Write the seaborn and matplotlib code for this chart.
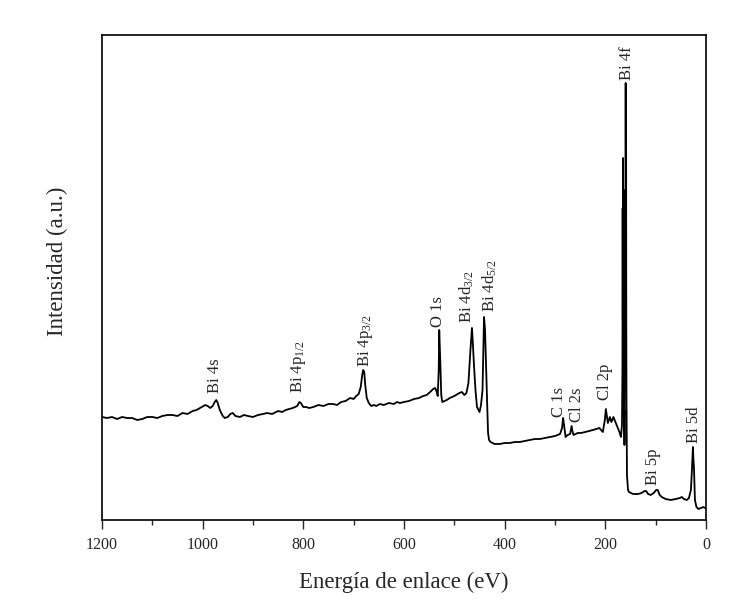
import matplotlib
matplotlib.use("Agg")
import matplotlib.pyplot as plt
import seaborn as sns
import pandas as pd

# Survey XPS spectrum: binding energy (eV) and intensity (a.u.)
energy = [
    1200, 1190, 1180, 1170, 1160, 1150, 1140, 1130, 1120, 1110, 1100, 1090, 1080,
    1070, 1060, 1050, 1040, 1030, 1020, 1012, 1005, 995, 990, 985, 980, 976, 973,
    970, 966, 960, 956, 950, 945, 940, 935, 926, 918, 910, 900, 890, 880, 872, 862,
    850, 842, 835, 828, 821, 812, 808, 805, 800, 795, 788, 780, 770, 760, 750, 741,
    733, 725, 716, 707, 700, 695, 690, 686, 683, 681, 679, 677, 674, 670, 665, 660,
    655, 648, 640, 630, 620, 614, 608, 600, 590, 580, 570, 562, 555, 548, 542, 538,
    535, 533, 531, 530, 528, 526, 524, 515, 509, 500, 490, 485, 480, 476, 472, 468,
    465, 463, 461, 458, 455, 450, 447, 444, 441, 439, 437, 435, 433, 431, 428, 420,
    410, 400, 390, 380, 370, 360, 350, 340, 330, 320, 310, 300, 290, 286, 284, 282,
    279, 275, 270, 267, 265, 263, 255, 248, 240, 232, 225, 218, 212, 205, 201, 199,
    197, 195, 191, 188, 184, 180, 176, 172, 169, 167, 166, 165.6, 165.2, 164.8,
    164.4, 164, 163.5, 163, 162.5, 162, 161.5, 161, 160.5, 160, 159.6, 159.2, 158.8,
    158.4, 158, 157, 155, 153, 145, 135, 128, 122, 119, 115, 110, 104, 99, 96, 92,
    88, 80, 70, 60, 52, 48, 44, 38, 34, 30, 28, 26, 25, 24, 22, 19, 15, 10, 5, 2, 0,
]
intensity = [
    103, 102, 103, 101, 103, 102, 102, 100, 101, 103, 103, 102, 104,
    105, 105, 104, 107, 106, 109, 110, 112, 115, 114, 112, 114, 118, 120,
    117, 110, 104, 102, 103, 106, 107, 104, 103, 105, 104, 103, 105, 106, 107, 106,
    109, 108, 110, 111, 112, 114, 118, 117, 113, 113, 112, 113, 115, 114, 116, 116,
    115, 118, 119, 122, 121, 124, 126, 133, 145, 150, 148, 135, 122, 117, 114, 115,
    114, 116, 115, 117, 116, 118, 117, 118, 119, 121, 122, 124, 125, 128, 131, 132,
    128, 124, 150, 190, 160, 125, 118, 120, 122, 124, 127, 128, 125, 127, 137, 170,
    192, 175, 155, 130, 113, 108, 115, 130, 203, 190, 157, 120, 87, 80, 78, 76,
    76, 77, 77, 78, 78, 79, 80, 81, 81, 82, 83, 84, 86, 92, 102, 95,
    83, 85, 86, 94, 88, 85, 87, 87, 88, 89, 90, 91, 92, 88, 100, 111,
    104, 97, 103, 98, 103, 98, 93, 88, 83, 95, 150, 312, 200, 362,
    280, 320, 150, 90, 110, 75, 200, 150, 330, 250, 437, 300, 400,
    200, 120, 45, 30, 28, 26, 26, 27, 29, 29, 26, 25, 27, 30, 30, 25,
    23, 21, 20, 21, 22, 23, 21, 20, 22, 30, 50, 73, 60, 53, 20, 13, 11, 12, 13, 12, 12,
]

# Peak assignments and where their labels sit (energy, intensity at label base)
peak_labels = [
    "Bi 4s", r"Bi 4p$\mathregular{_{1/2}}$", r"Bi 4p$\mathregular{_{3/2}}$", "O 1s",
    r"Bi 4d$\mathregular{_{3/2}}$", r"Bi 4d$\mathregular{_{5/2}}$", "C 1s", "Cl 2s",
    "Cl 2p", "Bi 4f", "Bi 5p", "Bi 5d",
]
label_energy = [975, 809, 676, 532, 475, 429, 292, 256, 201, 157, 105, 24]
label_height = [127, 127, 153, 193, 197, 208, 103, 98, 120, 440, 35, 77]

xticks = [1200, 1000, 800, 600, 400, 200, 0]

sns.set_style("ticks")
plt.rcParams["font.family"] = ["Liberation Serif", "DejaVu Serif"]
plt.rcParams["mathtext.fontset"] = "custom"
plt.rcParams["mathtext.rm"] = "Liberation Serif"

df = pd.DataFrame({"energy": energy, "intensity": intensity})

fig = plt.figure(figsize=(7.46, 6.14), dpi=100)
ax = fig.add_axes([0.1367, 0.1531, 0.8097, 0.7899])

sns.lineplot(data=df, x="energy", y="intensity", ax=ax, color="black",
             linewidth=1.3, estimator=None)

for txt, e, h in zip(peak_labels, label_energy, label_height):
    ax.text(e, h, txt, rotation=90, ha="center", va="bottom", fontsize=12)

ax.set_xlim(1200, 0)
ax.set_ylim(0, 485)
ax.set_xticks(xticks)
ax.set_xticklabels([str(t) for t in xticks], fontsize=11.5)
ax.set_xticks(range(100, 1200, 200), minor=True)
ax.tick_params(axis="x", which="major", direction="out", length=6.5, width=1.0, pad=6)
ax.tick_params(axis="x", which="minor", direction="out", length=3.6, width=1.0)
ax.set_yticks([])

for side in ["left", "right", "top", "bottom"]:
    ax.spines[side].set_visible(True)
    ax.spines[side].set_linewidth(1.2)
    ax.spines[side].set_color("black")

ax.set_xlabel("Energía de enlace (eV)", fontsize=16.5, labelpad=13)
ax.set_ylabel("Intensidad (a.u.)", fontsize=16.5)
ax.yaxis.set_label_coords(-0.056, 0.534)

fig.savefig("out.png", dpi=100)
